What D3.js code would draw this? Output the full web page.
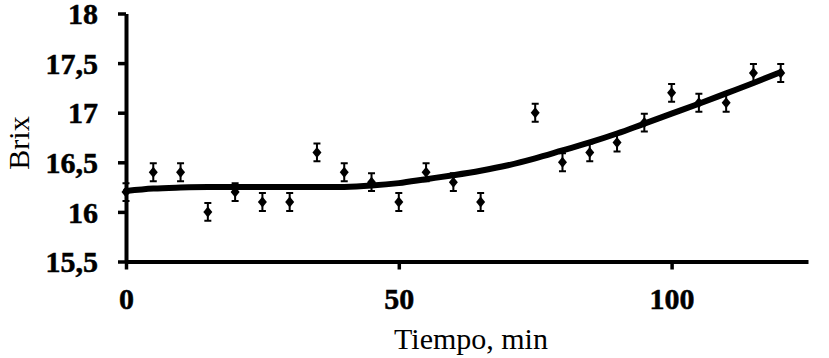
<!DOCTYPE html>
<html>
<head>
<meta charset="utf-8">
<script src="https://cdn.jsdelivr.net/npm/d3@7"></script>
<style>
  html, body { margin: 0; padding: 0; background: #fff; }
  svg { display: block; }
</style>
</head>
<body>
<svg id="chart" width="829" height="358"></svg>
<script>
// Measured data (Tiempo, min vs Brix)
const times   = [0, 5, 10, 15, 20, 25, 30, 35, 40, 45, 50, 55, 60, 65, 75, 80, 85, 90, 95, 100, 105, 110, 115, 120];
const brix    = [16.2, 16.4, 16.4, 16.0, 16.2, 16.1, 16.1, 16.6, 16.4, 16.3, 16.1, 16.4, 16.3, 16.1, 17.0, 16.5, 16.6, 16.7, 16.9, 17.2, 17.1, 17.1, 17.4, 17.4];
const errors  = [0.09, 0.09, 0.09, 0.09, 0.09, 0.09, 0.09, 0.09, 0.09, 0.09, 0.09, 0.09, 0.09, 0.09, 0.09, 0.09, 0.09, 0.09, 0.09, 0.09, 0.09, 0.09, 0.09, 0.09];
// Fitted curve
const fitTimes = [0, 5, 10, 15, 20, 25, 30, 35, 40, 45, 50, 55, 60, 65, 70, 75, 80, 85, 90, 95, 100, 105, 110, 115, 120];
const fitBrix  = [16.21, 16.235, 16.245, 16.25, 16.25, 16.25, 16.25, 16.25, 16.252, 16.265, 16.29, 16.33, 16.37, 16.415, 16.47, 16.54, 16.62, 16.70, 16.79, 16.89, 16.99, 17.09, 17.195, 17.30, 17.41];
// Axes
const xTicks = [0, 50, 100];
const xTickLabels = ["0", "50", "100"];
const yTicks = [15.5, 16, 16.5, 17, 17.5, 18];
const yTickLabels = ["15,5", "16", "16,5", "17", "17,5", "18"];
const xTitle = "Tiempo, min";
const yTitle = "Brix";

const svg = d3.select("#chart");
const x = d3.scaleLinear().domain([0, 125]).range([126, 808]);
const y = d3.scaleLinear().domain([15.5, 18]).range([261.5, 13.5]);

const font = "'Liberation Serif', 'Times New Roman', serif";

// Y axis
const yAxis = svg.append("g")
  .attr("transform", `translate(${x(0)},0)`)
  .call(d3.axisLeft(y).tickValues(yTicks).tickSize(8).tickSizeOuter(0).tickPadding(20)
    .tickFormat((d, i) => yTickLabels[i]));
// X axis
const xAxis = svg.append("g")
  .attr("transform", `translate(0,${y(15.5)})`)
  .call(d3.axisBottom(x).tickValues(xTicks).tickSize(8).tickSizeOuter(0).tickPadding(18)
    .tickFormat((d, i) => xTickLabels[i]));

[yAxis, xAxis].forEach(g => {
  g.select(".domain").attr("stroke", "#000").attr("stroke-width", 4);
  g.selectAll(".tick line").attr("stroke", "#000").attr("stroke-width", 3.5);
  g.selectAll(".tick text")
    .attr("fill", "#000")
    .attr("stroke", "#000")
    .attr("stroke-width", 0.5)
    .style("font-family", font)
    .style("font-weight", "bold")
    .style("font-size", "30px");
});
xAxis.selectAll(".tick text").attr("dy", "0.72em");
yAxis.selectAll(".tick text").attr("dy", "0.34em");

// Fitted curve
const line = d3.line().x(d => x(d[0])).y(d => y(d[1])).curve(d3.curveMonotoneX);
svg.append("path")
  .datum(fitTimes.map((t, i) => [t, fitBrix[i]]))
  .attr("d", line)
  .attr("fill", "none")
  .attr("stroke", "#000")
  .attr("stroke-width", 6)
  .attr("stroke-linejoin", "round")
  .attr("stroke-linecap", "round");

// Error bars
const pts = times.map((t, i) => ({ t, v: brix[i], e: errors[i] }));
const eb = svg.append("g").attr("stroke", "#000").attr("stroke-width", 2).attr("fill", "none");
eb.selectAll("path").data(pts).join("path")
  .attr("d", d => {
    const p = d3.path();
    const cx = x(d.t), y1 = y(d.v + d.e), y2 = y(d.v - d.e);
    p.moveTo(cx, y1); p.lineTo(cx, y2);
    p.moveTo(cx - 3.5, y1); p.lineTo(cx + 3.5, y1);
    p.moveTo(cx - 3.5, y2); p.lineTo(cx + 3.5, y2);
    return p.toString();
  });

// Diamond markers
svg.append("g").selectAll("path").data(pts).join("path")
  .attr("d", d => {
    const p = d3.path();
    const cx = x(d.t), cy = y(d.v), hw = 4.5, hh = 5.5;
    p.moveTo(cx, cy - hh); p.lineTo(cx + hw, cy); p.lineTo(cx, cy + hh); p.lineTo(cx - hw, cy); p.closePath();
    return p.toString();
  })
  .attr("fill", "#000");

// Titles
svg.append("text")
  .attr("x", 471).attr("y", 349)
  .attr("text-anchor", "middle")
  .style("font-family", font).style("font-size", "30px")
  .text(xTitle);
svg.append("text")
  .attr("transform", "translate(29,143) rotate(-90)")
  .attr("text-anchor", "middle")
  .style("font-family", font).style("font-size", "30px")
  .text(yTitle);
</script>
</body>
</html>
